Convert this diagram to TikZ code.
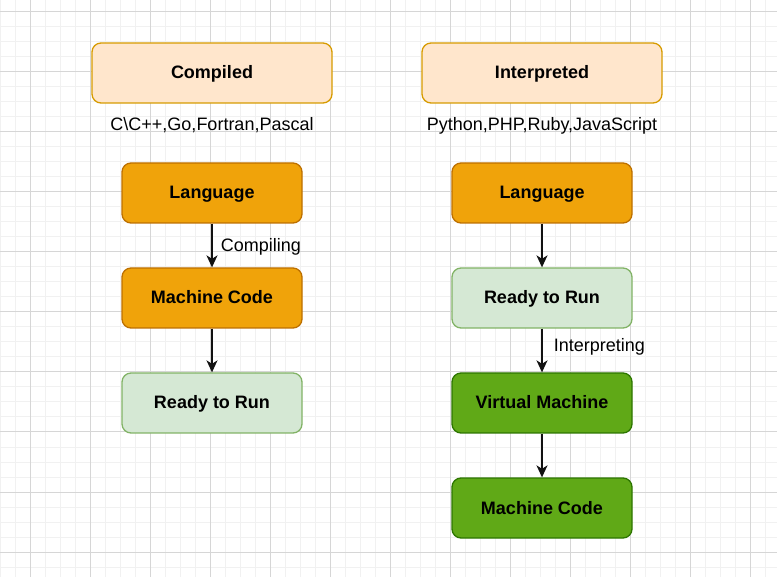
\documentclass[tikz,border=0pt]{standalone}
\usepackage{fontspec}
\setmainfont{Liberation Sans}
\usetikzlibrary{arrows.meta}
\definecolor{orangeF}{HTML}{F0A30A}
\definecolor{orangeS}{HTML}{BD7000}
\definecolor{peachF}{HTML}{FFE6CC}
\definecolor{peachS}{HTML}{D79B00}
\definecolor{lgreenF}{HTML}{D5E8D4}
\definecolor{lgreenS}{HTML}{82B366}
\definecolor{greenF}{HTML}{60A917}
\definecolor{greenS}{HTML}{2D7600}
\definecolor{gridMinor}{HTML}{F1F1F1}
\definecolor{gridMajor}{HTML}{D6D6D6}
\definecolor{edgeC}{HTML}{111111}
\begin{document}
\begin{tikzpicture}[x=1pt,y=-1pt,
  box/.style={draw, line width=1.3pt, rounded corners=9pt, minimum width=180pt, minimum height=60pt,
    font=\fontsize{18}{21}\selectfont\bfseries, inner sep=0pt, text height=12pt, text depth=0pt},
  headbox/.style={box, minimum width=240pt, fill=peachF, draw=peachS},
  orangebox/.style={box, fill=orangeF, draw=orangeS},
  lgreenbox/.style={box, fill=lgreenF, draw=lgreenS},
  greenbox/.style={box, fill=greenF, draw=greenS},
  plain/.style={font=\fontsize{18}{21}\selectfont, inner sep=0pt, text height=12pt, text depth=0pt},
  arr/.style={draw=edgeC, line width=1.6pt, -{Stealth[length=12pt,width=11pt,inset=3.5pt]}}
]
\useasboundingbox (0,0) rectangle (777,577);
\fill[white] (0,0) rectangle (777,577);
\foreach \x in {0,15,...,765} \draw[gridMinor, line width=1pt] (\x,0) -- (\x,577);
\foreach \y in {12,27,...,567} \draw[gridMinor, line width=1pt] (0,\y) -- (777,\y);
\foreach \x in {30,90,...,750} \draw[gridMajor, line width=1pt] (\x,0) -- (\x,577);
\foreach \y in {12,72,...,552} \draw[gridMajor, line width=1pt] (0,\y) -- (777,\y);

\node[headbox] (compiled) at (212,73) {Compiled};
\node[headbox] (interp) at (542,73) {Interpreted};
\node[plain] (clist) at (212,125) {C\textbackslash C++,Go,Fortran,Pascal};
\node[plain] (ilist) at (542,125) {Python,PHP,Ruby,JavaScript};

\node[orangebox] (lang1) at (212,193) {Language};
\node[orangebox] (mc1) at (212,298) {Machine Code};
\node[lgreenbox] (rr1) at (212,403) {Ready to Run};

\node[orangebox] (lang2) at (542,193) {Language};
\node[lgreenbox] (rr2) at (542,298) {Ready to Run};
\node[greenbox] (vm2) at (542,403) {Virtual Machine};
\node[greenbox] (mc2) at (542,508) {Machine Code};

\draw[arr] (lang1) -- node[plain, anchor=west, xshift=8pt] (lblc) {Compiling} (mc1);
\draw[arr] (mc1) -- (rr1);
\draw[arr] (lang2) -- (rr2);
\draw[arr] (rr2) -- node[plain, anchor=west, xshift=11pt, yshift=4.5pt] (lbli) {Interpreting} (vm2);
\draw[arr] (vm2) -- (mc2);
\end{tikzpicture}
\end{document}
